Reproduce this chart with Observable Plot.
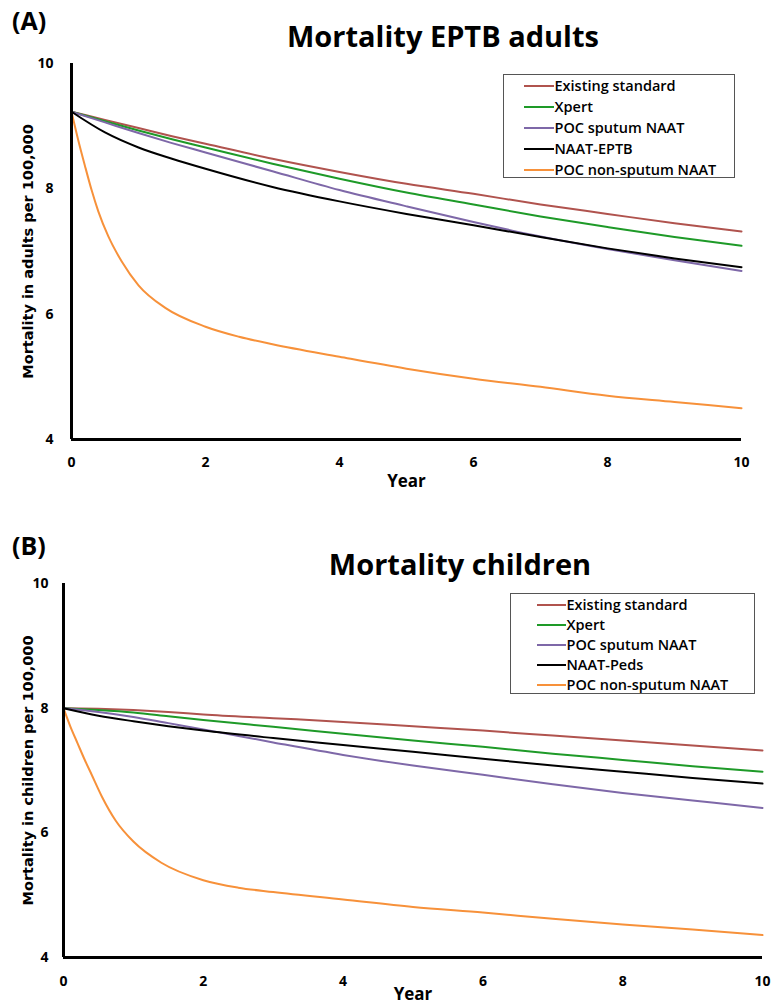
<!DOCTYPE html>
<html><head><meta charset="utf-8">
<script src="https://cdn.jsdelivr.net/npm/d3@7"></script>
<script src="https://cdn.jsdelivr.net/npm/@observablehq/plot@0.6"></script>
<style>
body{margin:0;background:#fff;}
#wrap{position:relative;width:772px;height:1007px;overflow:hidden;font-family:"Open Sans",sans-serif;color:#000;}
.panel{position:absolute;left:0;}
.title{position:absolute;font-weight:700;font-size:29px;line-height:1;white-space:nowrap;transform:translateX(-50%);}
.tag{position:absolute;font-weight:700;font-size:25px;line-height:1.2;white-space:nowrap;}
.legend{position:absolute;border:1.5px solid #555;box-sizing:border-box;background:#fff;}
.row{position:absolute;display:flex;align-items:center;height:20px;font-weight:600;font-size:14.5px;white-space:nowrap;}
.sw{height:2px;margin-right:1px;}
</style></head><body><div id="wrap"></div>
<script>
// ---------- data ----------
const namesA = ["Existing standard","Xpert","POC sputum NAAT","NAAT-EPTB","POC non-sputum NAAT"];
const namesB = ["Existing standard","Xpert","POC sputum NAAT","NAAT-Peds","POC non-sputum NAAT"];
const colors = ["#B0534E","#1E9A28","#7E68A8","#000000","#F7913A"];
const xTicks = [0,2,4,6,8,10];
const yTicks = [4,6,8,10];
const yearsCoarse = [0,0.5,1,1.5,2,3,4,5,6,7,8,9,10];
const yearsFine = [0,0.1,0.2,0.3,0.4,0.55,0.75,1,1.4,2,2.5,3,4,5,6,7,8,9,10];

// Panel A: Mortality EPTB adults
const adultsExisting = [9.23,9.10,8.97,8.84,8.72,8.48,8.27,8.08,7.92,7.75,7.60,7.45,7.32];
const adultsXpert    = [9.23,9.08,8.93,8.79,8.66,8.40,8.16,7.94,7.75,7.56,7.39,7.23,7.09];
const adultsPocSput  = [9.23,9.06,8.89,8.73,8.58,8.28,7.98,7.72,7.47,7.24,7.04,6.86,6.69];
const adultsNaat     = [9.23,8.90,8.66,8.48,8.32,8.03,7.80,7.60,7.42,7.23,7.05,6.89,6.75];
const adultsPocNonSp = [9.23,8.78,8.37,7.98,7.64,7.24,6.84,6.46,6.10,5.80,5.64,5.52,5.32,5.13,4.97,4.84,4.70,4.60,4.50];

// Panel B: Mortality children
const childExisting = [8.00,7.99,7.97,7.94,7.90,7.84,7.78,7.71,7.64,7.56,7.48,7.40,7.32];
const childXpert    = [8.00,7.97,7.93,7.87,7.81,7.70,7.59,7.48,7.38,7.27,7.17,7.07,6.98];
const childPocSput  = [8.00,7.94,7.86,7.76,7.66,7.45,7.25,7.08,6.93,6.78,6.64,6.52,6.40];
const childNaat     = [8.00,7.88,7.79,7.71,7.64,7.52,7.41,7.30,7.19,7.08,6.98,6.88,6.79];
const childPocNonSp = [8.00,7.70,7.44,7.18,6.94,6.58,6.19,5.86,5.52,5.24,5.12,5.05,4.93,4.81,4.72,4.62,4.53,4.45,4.36];

// ---------- build ----------
function rows(years, vals, name){ return years.map((t,i)=>({year:t, value:vals[i], series:name})); }
const dataA = [
  ...rows(yearsCoarse, adultsExisting, namesA[0]),
  ...rows(yearsCoarse, adultsXpert, namesA[1]),
  ...rows(yearsCoarse, adultsPocSput, namesA[2]),
  ...rows(yearsCoarse, adultsNaat, namesA[3]),
  ...rows(yearsFine, adultsPocNonSp, namesA[4])
];
const dataB = [
  ...rows(yearsCoarse, childExisting, namesB[0]),
  ...rows(yearsCoarse, childXpert, namesB[1]),
  ...rows(yearsCoarse, childPocSput, namesB[2]),
  ...rows(yearsCoarse, childNaat, namesB[3]),
  ...rows(yearsFine, childPocNonSp, namesB[4])
];

function makePlot(o){
  return Plot.plot({
    width:772, height:o.height,
    marginTop:o.mt, marginBottom:o.mb, marginLeft:o.ml, marginRight:o.mr,
    style:{fontFamily:'"Open Sans", sans-serif', fontSize:"14px", fontWeight:"bold", color:"#000", background:"transparent"},
    x:{domain:[xTicks[0], xTicks[xTicks.length-1]]},
    y:{domain:[yTicks[0], yTicks[yTicks.length-1]]},
    color:{domain:o.names, range:colors},
    marks:[
      Plot.axisX({ticks:xTicks, tickSize:0, tickPadding:o.xpad, label:null, tickFormat:d=>String(d)}),
      Plot.axisY({ticks:yTicks, tickSize:0, tickPadding:o.ypad, label:null, tickFormat:d=>String(d)}),
      Plot.line(o.data,{x:"year", y:"value", z:"series", stroke:"series", strokeWidth:2, curve:"monotone-x"}),
      Plot.ruleX([xTicks[0]],{y1:yTicks[0], y2:yTicks[yTicks.length-1], strokeWidth:3, stroke:"#000"}),
      Plot.ruleY([yTicks[0]],{x1:xTicks[0], x2:xTicks[xTicks.length-1], strokeWidth:3, stroke:"#000"}),
      Plot.text([o.ylabel],{frameAnchor:"left", textAnchor:"middle", lineAnchor:"middle", rotate:-90, dx:o.ydx, fontFamily:"DejaVu Sans", fontWeight:"bold", fontSize:14.5, fill:"#000"}),
      Plot.text(["Year"],{frameAnchor:"bottom", textAnchor:"middle", lineAnchor:"middle", dy:o.xdy, fontSize:17, fontWeight:"bold", fill:"#000"})
    ]
  });
}

const wrap = document.getElementById("wrap");
function addPanel(top, plot){
  const d = document.createElement("div");
  d.className = "panel"; d.style.top = top + "px";
  d.appendChild(plot); wrap.appendChild(d);
}
function addDiv(cls, text, css){
  const d = document.createElement("div");
  d.className = cls; d.textContent = text; Object.assign(d.style, css); wrap.appendChild(d); return d;
}
function addLegend(box, names, rowCenters, lineLeft, lineW){
  const L = document.createElement("div");
  L.className = "legend";
  Object.assign(L.style,{left:box.left+"px", top:box.top+"px", width:box.w+"px", height:box.h+"px"});
  names.forEach((n,i)=>{
    const r = document.createElement("div");
    r.className = "row";
    r.style.left = (lineLeft - box.left - 1.5) + "px";
    r.style.top = (rowCenters[i] - box.top - 1.5 - 10) + "px";
    const s = document.createElement("span");
    s.className = "sw"; s.style.width = lineW + "px"; s.style.background = colors[i];
    const t = document.createElement("span"); t.textContent = n;
    r.appendChild(s); r.appendChild(t); L.appendChild(r);
  });
  wrap.appendChild(L);
}

addPanel(0, makePlot({height:500, mt:63, mb:61, ml:71, mr:31, xpad:18, ypad:18, data:dataA, names:namesA,
  ylabel:"Mortality in adults per 100,000", ydx:-43, xdy:42}));
addPanel(500, makePlot({height:507, mt:83, mb:50, ml:63, mr:10, xpad:18.5, ypad:15, data:dataB, names:namesB,
  ylabel:"Mortality in children per 100,000", ydx:-35, xdy:37}));

addDiv("tag","(A)",{left:"12px", top:"5px"});
addDiv("title","Mortality EPTB adults",{left:"443px", top:"21px"});
addDiv("tag","(B)",{left:"12px", top:"530px"});
addDiv("title","Mortality children",{left:"460px", top:"549px"});

addLegend({left:503, top:74, w:232, h:104}, namesA, [86,107,128,149,170], 524, 30);
addLegend({left:510, top:593, w:245, h:101}, namesB, [605,625,645,665,685], 537, 29);
</script>
</body></html>
